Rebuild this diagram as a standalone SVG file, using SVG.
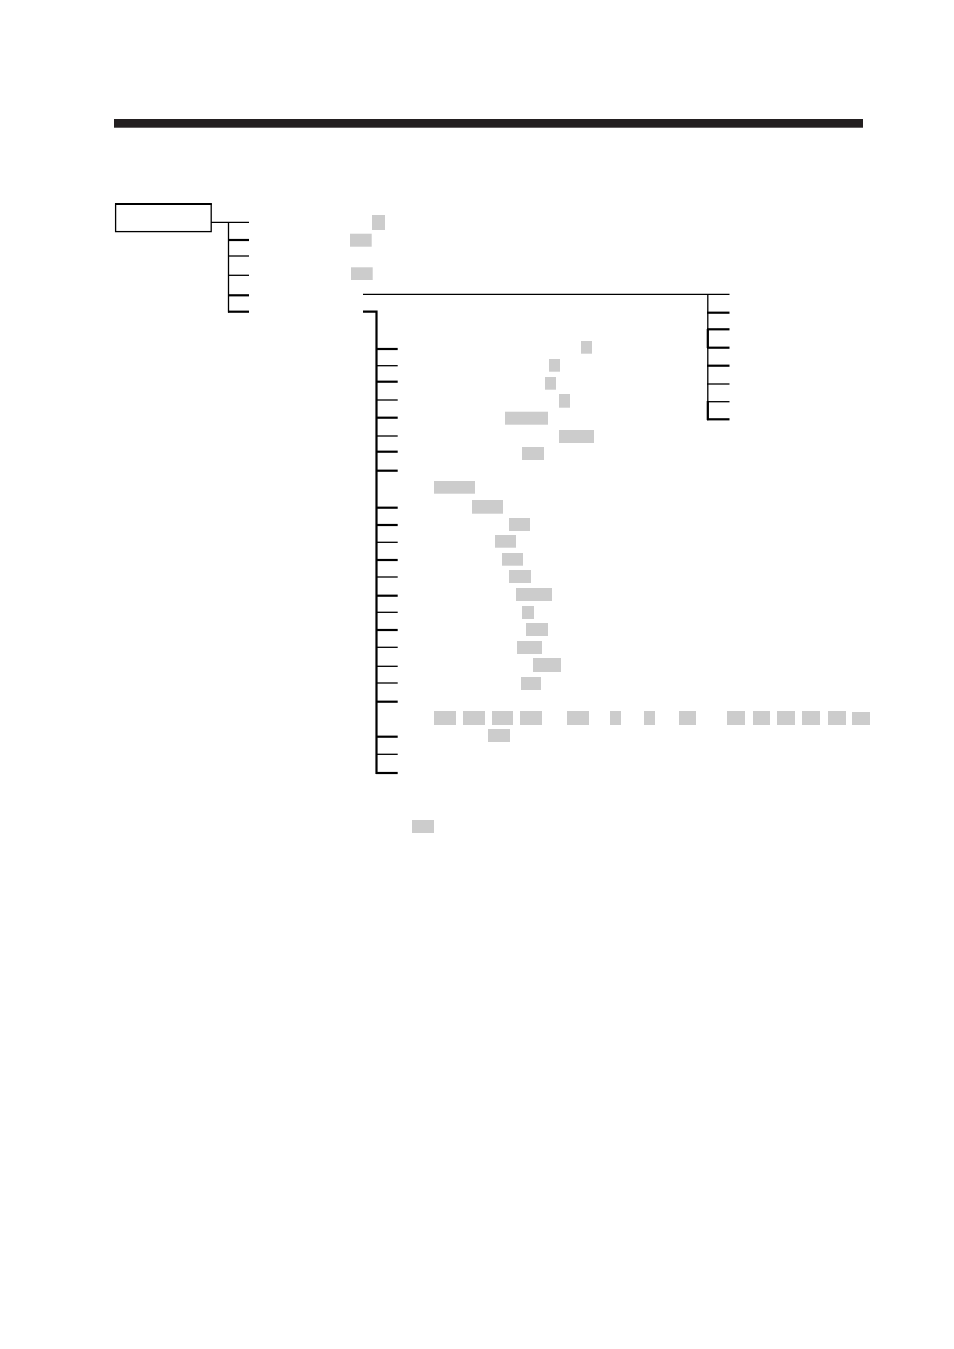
<svg xmlns="http://www.w3.org/2000/svg" width="954" height="1349" viewBox="0 0 954 1349">
<style>
.th{stroke:#000;stroke-width:1.3;fill:none}
.tk{stroke:#000;stroke-width:2.2;fill:none}
.g{fill:#cccccc}
</style>
<rect width="954" height="1349" fill="#fff"/>
<rect id="topbar" x="114" y="119" width="749" height="8.7" fill="#231f20"/>
<g id="root-box">
<rect x="115.6" y="204" width="95.6" height="27.6" class="th"/>
<line x1="115" y1="204" x2="211.8" y2="204" class="tk"/>
</g>
<g id="connectors">
<!-- root tree -->
<polyline points="211,222.3 249,222.3" class="th"/>
<line x1="228.5" y1="222" x2="228.5" y2="312.5" class="th"/>
<line x1="228" y1="240" x2="249" y2="240" class="tk"/>
<line x1="228" y1="256" x2="249" y2="256" class="th"/>
<line x1="228" y1="275.3" x2="249" y2="275.3" class="th"/>
<line x1="228" y1="295.3" x2="249" y2="295.3" class="tk"/>
<line x1="228" y1="311.7" x2="249" y2="311.7" class="tk"/>
<!-- long horizontal -->
<line x1="363" y1="294.3" x2="729.5" y2="294.3" class="th"/>
<!-- right tree -->
<line x1="707.8" y1="294" x2="707.8" y2="420.3" class="th"/>
<line x1="707.8" y1="329" x2="707.8" y2="348" class="tk"/>
<line x1="707.8" y1="401" x2="707.8" y2="420" class="tk"/>
<line x1="707" y1="312.7" x2="729.5" y2="312.7" class="tk"/>
<line x1="707" y1="329.3" x2="729.5" y2="329.3" class="tk"/>
<line x1="707" y1="347.7" x2="729.5" y2="347.7" class="tk"/>
<line x1="707" y1="365.7" x2="729.5" y2="365.7" class="tk"/>
<line x1="707" y1="384" x2="729.5" y2="384" class="th"/>
<line x1="707" y1="401.7" x2="729.5" y2="401.7" class="th"/>
<line x1="707" y1="419.3" x2="729.5" y2="419.3" class="tk"/>
<!-- left long tree -->
<polyline points="363,311.7 376.5,311.7 376.5,774" class="tk"/>
<line x1="376" y1="349" x2="397.7" y2="349" class="tk"/>
<line x1="376" y1="365.7" x2="397.7" y2="365.7" class="th"/>
<line x1="376" y1="381.7" x2="397.7" y2="381.7" class="tk"/>
<line x1="376" y1="400" x2="397.7" y2="400" class="th"/>
<line x1="376" y1="417.7" x2="397.7" y2="417.7" class="tk"/>
<line x1="376" y1="436" x2="397.7" y2="436" class="th"/>
<line x1="376" y1="451.7" x2="397.7" y2="451.7" class="tk"/>
<line x1="376" y1="470.7" x2="397.7" y2="470.7" class="tk"/>
<line x1="376" y1="507.7" x2="397.7" y2="507.7" class="tk"/>
<line x1="376" y1="525" x2="397.7" y2="525" class="tk"/>
<line x1="376" y1="542.3" x2="397.7" y2="542.3" class="th"/>
<line x1="376" y1="560" x2="397.7" y2="560" class="tk"/>
<line x1="376" y1="577" x2="397.7" y2="577" class="th"/>
<line x1="376" y1="595.7" x2="397.7" y2="595.7" class="tk"/>
<line x1="376" y1="612.3" x2="397.7" y2="612.3" class="th"/>
<line x1="376" y1="630" x2="397.7" y2="630" class="tk"/>
<line x1="376" y1="647.3" x2="397.7" y2="647.3" class="th"/>
<line x1="376" y1="666.3" x2="397.7" y2="666.3" class="th"/>
<line x1="376" y1="683" x2="397.7" y2="683" class="th"/>
<line x1="376" y1="701.7" x2="397.7" y2="701.7" class="tk"/>
<line x1="376" y1="736.7" x2="397.7" y2="736.7" class="tk"/>
<line x1="376" y1="754.3" x2="397.7" y2="754.3" class="th"/>
<line x1="376" y1="773" x2="397.7" y2="773" class="tk"/>
</g>
<g id="label-boxes">
<rect class="g" x="372" y="215" width="13" height="15"/>
<rect class="g" x="350" y="233.7" width="21.7" height="13"/>
<rect class="g" x="351" y="267.3" width="21.7" height="12.7"/>
<rect class="g" x="581" y="341" width="11" height="12.7"/>
<rect class="g" x="549" y="359" width="11" height="12.7"/>
<rect class="g" x="545" y="377" width="11" height="12.7"/>
<rect class="g" x="559" y="394" width="11" height="13.7"/>
<rect class="g" x="505" y="411.7" width="43" height="13"/>
<rect class="g" x="559" y="430" width="35" height="13"/>
<rect class="g" x="522" y="447" width="22" height="13"/>
<rect class="g" x="434" y="481" width="41" height="12.7"/>
<rect class="g" x="472" y="500" width="31" height="13.7"/>
<rect class="g" x="509" y="518" width="21" height="13"/>
<rect class="g" x="495" y="535" width="21" height="12.7"/>
<rect class="g" x="502" y="553" width="21" height="12.7"/>
<rect class="g" x="509" y="570" width="22" height="13"/>
<rect class="g" x="516" y="588" width="36" height="13"/>
<rect class="g" x="522" y="606" width="12" height="13"/>
<rect class="g" x="526" y="623" width="22" height="13"/>
<rect class="g" x="517" y="641" width="25" height="13"/>
<rect class="g" x="533" y="658" width="28" height="14"/>
<rect class="g" x="521" y="677" width="20" height="13"/>
<rect class="g" x="434" y="711" width="22" height="14"/>
<rect class="g" x="463" y="711" width="22" height="14"/>
<rect class="g" x="492" y="711" width="21" height="14"/>
<rect class="g" x="520" y="711" width="22" height="14"/>
<rect class="g" x="567" y="711" width="22" height="14"/>
<rect class="g" x="610" y="711" width="11" height="14"/>
<rect class="g" x="644" y="711" width="11" height="14"/>
<rect class="g" x="679" y="711" width="17" height="14"/>
<rect class="g" x="727" y="711" width="18" height="14"/>
<rect class="g" x="753" y="711" width="17" height="14"/>
<rect class="g" x="777" y="711" width="18" height="14"/>
<rect class="g" x="802" y="711" width="18" height="14"/>
<rect class="g" x="828" y="711" width="18" height="14"/>
<rect class="g" x="852" y="712" width="18" height="13"/>
<rect class="g" x="488" y="729" width="22" height="13"/>
<rect class="g" x="412" y="820" width="22" height="13"/>
</g>
</svg>
